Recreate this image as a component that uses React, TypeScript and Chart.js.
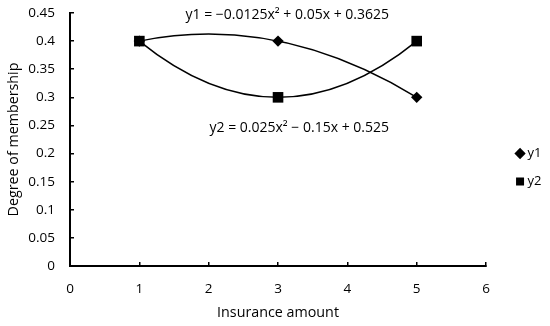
import React, { useEffect, useRef } from "react";
import { Chart, registerables } from "chart.js";

Chart.register(...registerables);

const xValues = [1, 3, 5];
const y1Values = [0.4, 0.4, 0.3];
const y2Values = [0.4, 0.3, 0.4];
const seriesNames = ["y1", "y2"];
const equationLabels = [
  "y1 = \u22120.0125x\u00B2 + 0.05x + 0.3625",
  "y2 = 0.025x\u00B2 \u2212 0.15x + 0.525",
];
const xTitle = "Insurance amount";
const yTitle = "Degree of membership";

const FONT = "'Open Sans', 'Noto Sans', sans-serif";

// Quadratic trendline through each series' three points (drawn from scale pixels)
const trendPlugin = {
  id: "trend",
  beforeDatasetsDraw(chart: any) {
    const { ctx } = chart;
    ctx.save();
    ctx.strokeStyle = "#000";
    ctx.lineWidth = 1.5;
    chart.data.datasets.forEach((_: any, i: number) => {
      const pts = chart.getDatasetMeta(i).data;
      if (pts.length !== 3) return;
      const [p0, p1, p2] = pts;
      const cx = 2 * p1.x - (p0.x + p2.x) / 2;
      const cy = 2 * p1.y - (p0.y + p2.y) / 2;
      ctx.beginPath();
      ctx.moveTo(p0.x, p0.y);
      ctx.quadraticCurveTo(cx, cy, p2.x, p2.y);
      ctx.stroke();
    });
    ctx.restore();
  },
};

const equationPlugin = {
  id: "equations",
  afterDatasetsDraw(chart: any) {
    const { ctx, scales } = chart;
    const x = scales.x;
    const y = scales.y;
    ctx.save();
    ctx.font = `14px ${FONT}`;
    ctx.fillStyle = "#000";
    ctx.textAlign = "right";
    ctx.textBaseline = "middle";
    ctx.fillText(equationLabels[0], x.getPixelForValue(4.6), y.getPixelForValue(0.4465));
    ctx.fillText(equationLabels[1], x.getPixelForValue(4.6), y.getPixelForValue(0.2456));
    ctx.restore();
  },
};

// Nudge the legend block right/down to sit like the reference
const legendShift = {
  id: "legendShift",
  afterLayout(chart: any) {
    const l = chart.legend;
    if (!l) return;
    l.left += 18;
    l.right += 18;
    l.top += 4.5;
    l.bottom += 4.5;
  },
};

export default function App() {
  const ref = useRef<HTMLCanvasElement | null>(null);
  useEffect(() => {
    if (!ref.current) return;
    const toPts = (ys: number[]) => xValues.map((xv, i) => ({ x: xv, y: ys[i] }));
    const chart = new Chart(ref.current, {
      type: "scatter",
      data: {
        datasets: [
          {
            label: seriesNames[0],
            data: toPts(y1Values),
            showLine: false,
            borderColor: "#000",
            backgroundColor: "#000",
            pointStyle: "rectRot",
            pointRadius: 5.7,
            pointBorderWidth: 0,
          },
          {
            label: seriesNames[1],
            data: toPts(y2Values),
            showLine: false,
            borderColor: "#000",
            backgroundColor: "#000",
            pointStyle: "rect",
            pointRadius: 7.5,
            pointBorderWidth: 0,
          },
        ],
      },
      options: {
        animation: false,
        responsive: false,
        maintainAspectRatio: false,
        layout: { padding: { top: 0, right: 16.5, bottom: 0, left: 3 } },
        plugins: {
          tooltip: { enabled: false },
          legend: {
            position: "right",
            labels: {
              usePointStyle: true,
              boxWidth: 2,
              boxHeight: 8,
              padding: 15,
              color: "#000",
              font: { family: FONT, size: 13 },
            },
          },
        },
        scales: {
          x: {
            type: "linear",
            min: 0,
            max: 6,
            afterFit: (s: any) => {
              s.height = 60;
            },
            ticks: { stepSize: 1, color: "#000", font: { family: FONT, size: 13.5 }, padding: 19 },
            grid: { drawOnChartArea: false, color: "#000", lineWidth: 1.5, tickLength: -4 },
            border: { color: "#000", width: 2 },
            title: { display: true, text: xTitle, color: "#000", font: { family: FONT, size: 14.3 }, padding: { top: 6, bottom: 4 } },
          },
          y: {
            type: "linear",
            min: 0,
            max: 0.45,
            afterFit: (s: any) => {
              s.width = 67;
              s.paddingTop = 13;
              s.paddingBottom = 0;
            },
            ticks: {
              stepSize: 0.05,
              color: "#000",
              font: { family: FONT, size: 13.5 },
              padding: 19,
              callback: (v: any) => String(Math.round(Number(v) * 100) / 100),
            },
            grid: { drawOnChartArea: false, color: "#000", lineWidth: 1.5, tickLength: -4 },
            border: { color: "#000", width: 2 },
            title: { display: true, text: yTitle, color: "#000", font: { family: FONT, size: 14.3 }, padding: { top: 2, bottom: 6 } },
          },
        },
      },
      plugins: [trendPlugin, equationPlugin, legendShift],
    });
    return () => chart.destroy();
  }, []);
  return (
    <div style={{ position: "fixed", left: 0, top: 0, width: 550, height: 326, background: "#fff" }}>
      <canvas ref={ref} width={550} height={326} style={{ width: 550, height: 326, display: "block" }} />
    </div>
  );
}
